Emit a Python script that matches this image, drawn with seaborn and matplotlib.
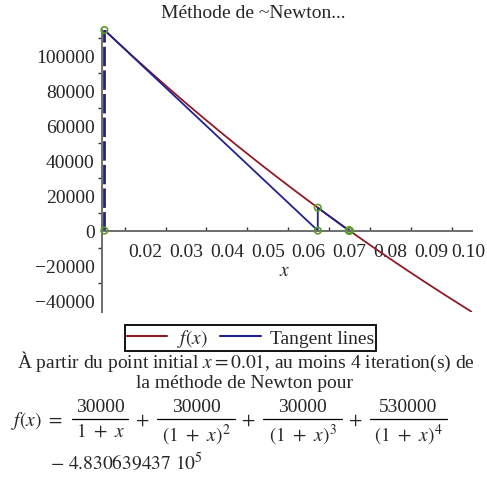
import numpy as np
import pandas as pd
import matplotlib
matplotlib.use("Agg")
import matplotlib.pyplot as plt
import matplotlib.transforms as mtransforms
import seaborn as sns
from matplotlib.lines import Line2D
from matplotlib.ticker import MultipleLocator, FixedLocator, FuncFormatter

# Bond cash flows and price that define f(x)
cash_flows = [30000, 30000, 30000, 530000]
price = 4.830639437e5
x_start = 0.01
n_iter = 4
x_range = [0.01, 0.10]

y_major_ticks = [-40000, -20000, 0, 20000, 40000, 60000, 80000, 100000]
x_major_ticks = [0.02, 0.03, 0.04, 0.05, 0.06, 0.07, 0.08, 0.09, 0.10]

title_text = "Méthode de ~Newton..."
legend_labels = ["$f(x)$", "Tangent lines"]

col_f = "#8E1B26"
col_t = "#22228C"
col_pt = "#5E9A2C"

FS = 14
W, H = 487, 481


def f(x):
    return sum(c / (1 + x) ** (k + 1) for k, c in enumerate(cash_flows)) - price


def df(x):
    return sum(-(k + 1) * c / (1 + x) ** (k + 2) for k, c in enumerate(cash_flows))


def fx(px):
    return px / W


def fy(py):
    return 1 - py / H


# Newton iterates
xs = [x_start]
for _ in range(n_iter):
    xs.append(xs[-1] - f(xs[-1]) / df(xs[-1]))

sns.set_style("white")
plt.rcParams["font.family"] = ["Liberation Serif", "DejaVu Serif"]
plt.rcParams["mathtext.fontset"] = "stix"

fig = plt.figure(figsize=(W / 100, H / 100), dpi=100)
ax = fig.add_axes([fx(101.5), fy(313), fx(472) - fx(101.5), fy(31) - fy(313)])

# curve
grid = np.linspace(x_range[0], x_range[1], 400)
curve = pd.DataFrame({"x": grid, "y": f(grid)})
sns.lineplot(data=curve, x="x", y="y", ax=ax, color=col_f, lw=1.3, sort=False)

# tangent path: tangent from (x_i, f(x_i)) to (x_{i+1}, 0), then vertical to the curve
px, py = [], []
for i in range(n_iter):
    px += [xs[i], xs[i + 1], xs[i + 1]]
    py += [f(xs[i]), 0.0, f(xs[i + 1])]
tang = pd.DataFrame({"x": px, "y": py})
sns.lineplot(data=tang, x="x", y="y", ax=ax, color=col_t, lw=1.3, sort=False,
             estimator=None)

# initial vertical
first = pd.DataFrame({"x": [xs[0], xs[0]], "y": [0.0, f(xs[0])]})
sns.lineplot(data=first, x="x", y="y", ax=ax, color=col_t, lw=2.0, sort=False,
             estimator=None, linestyle=(0, (7, 1.5)))

# iterate markers on the axis and on the curve
pts = pd.DataFrame({"x": xs + xs, "y": [0.0] * len(xs) + [f(v) for v in xs]})
sns.scatterplot(data=pts, x="x", y="y", ax=ax, s=22, facecolor="none",
                edgecolor=col_pt, linewidth=1.2, zorder=5, clip_on=False)

ax.set_xlim(0.0093, x_range[1])
ax.set_ylim(f(x_range[1]), f(x_range[0]))

for s in ["top", "right"]:
    ax.spines[s].set_visible(False)
ax.spines["bottom"].set_position(("data", 0))
for s in ["left", "bottom"]:
    ax.spines[s].set_color("#6E6E6E")
    ax.spines[s].set_linewidth(1.4)

ax.yaxis.set_major_locator(FixedLocator(y_major_ticks))
ax.yaxis.set_minor_locator(MultipleLocator(10000))
ax.xaxis.set_major_locator(FixedLocator(x_major_ticks))
ax.xaxis.set_minor_locator(FixedLocator([t - 0.005 for t in x_major_ticks]))
ax.xaxis.set_major_formatter(FuncFormatter(lambda v, p: f"{v:.2f}"))
ax.yaxis.set_major_formatter(FuncFormatter(lambda v, p: f"{int(round(v))}".replace("-", "\u2212")))

ax.tick_params(axis="y", which="major", direction="out", length=4, width=1,
               color="#333333", labelsize=FS, pad=1)
ax.tick_params(axis="y", which="minor", direction="out", length=3, width=1,
               color="#333333", left=True)
ax.tick_params(axis="x", which="major", direction="in", length=4, width=1,
               color="#333333", labelsize=FS, pad=9)
ax.tick_params(axis="x", which="minor", direction="in", length=3, width=1,
               color="#333333", bottom=True)

# keep the last x label inside the figure
fig.canvas.draw()
last_lbl = ax.get_xticklabels()[-1]
last_lbl.set_transform(last_lbl.get_transform()
                       + mtransforms.ScaledTranslation(-0.035, 0, fig.dpi_scale_trans))

ax.set_xlabel("")
ax.set_ylabel("")
ax.text(0.0542, -22500, "$x$", fontsize=FS, ha="center", va="center")

fig.text(fx(253), fy(14), title_text, ha="center", va="center", fontsize=FS)

handles = [Line2D([], [], color=col_f, lw=1.5), Line2D([], [], color=col_t, lw=1.5)]
leg = fig.legend(handles, legend_labels, loc="center", ncol=2,
                 bbox_to_anchor=(fx(250.5), fy(339)), fontsize=FS,
                 frameon=True, fancybox=False, framealpha=1, edgecolor="black",
                 handlelength=2.1, handletextpad=0.5, columnspacing=0.6,
                 borderpad=0.1, borderaxespad=0)
leg.get_frame().set_linewidth(1.3)

fig.text(fx(246), fy(362),
         f"À partir du point initial $x = {x_start}$, au moins {n_iter} iteration(s) de",
         ha="center", va="center", fontsize=FS)
fig.text(fx(245), fy(384), "la méthode de Newton pour",
         ha="center", va="center", fontsize=FS)

# f(x) = sum of fractions, laid out piece by piece
fig.text(fx(11), fy(421), r"$f(x)\ =$", ha="left", va="center", fontsize=FS)
frac_spans = [(72, 128), (157, 235), (263, 342), (370, 447)]
plus_x = [142, 248, 355]
for k, c in enumerate(cash_flows):
    x0, x1 = frac_spans[k]
    cx = (x0 + x1) / 2
    fig.text(fx(cx), fy(408), f"{c}", ha="center", va="center", fontsize=FS)
    fig.add_artist(Line2D([fx(x0), fx(x1)], [fy(420), fy(420)], color="black",
                          lw=0.9, transform=fig.transFigure))
    if k == 0:
        den = r"$1\ +\ x$"
        fig.text(fx(cx), fy(432), den, ha="center", va="center", fontsize=FS)
    else:
        den = rf"$(1\ +\ x)^{{{k + 1}}}$"
        fig.text(fx(cx), fy(422.5), den, ha="center", va="top", fontsize=FS)
for pxp in plus_x:
    fig.text(fx(pxp), fy(421), "$+$", ha="center", va="center", fontsize=FS)

mant, expo = f"{price:.9e}".split("e")
fig.text(fx(50), fy(463), rf"$-\ {mant}\ 10^{{{int(expo)}}}$",
         ha="left", va="center", fontsize=FS)

fig.savefig("out.png", dpi=100)
